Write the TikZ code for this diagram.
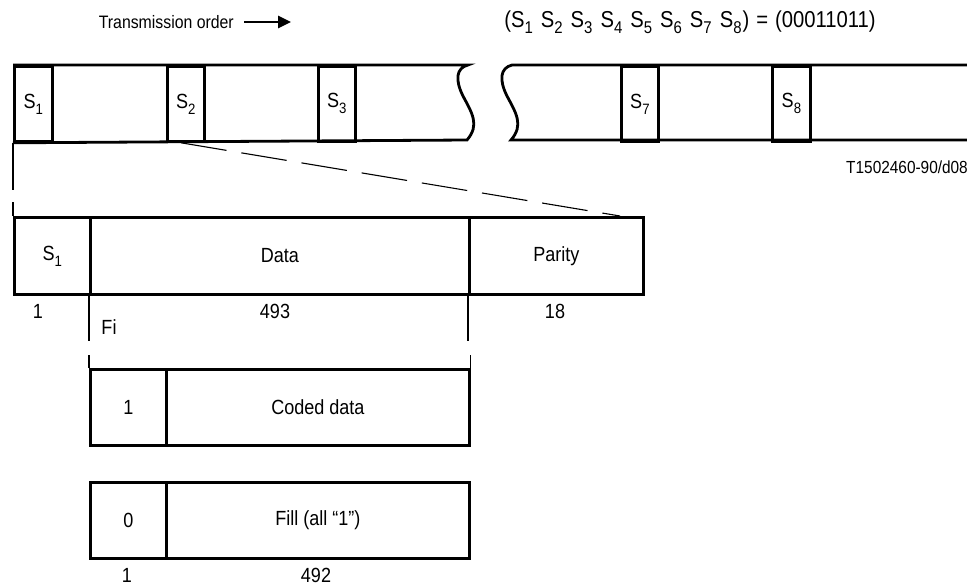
\documentclass[tikz,border=0pt]{standalone}
\usepackage{fontspec}
\setmainfont{Liberation Sans}[FakeStretch=0.88]
\usetikzlibrary{arrows.meta,calc}
\newcommand\sbs[1]{\raisebox{-6pt}{\fontsize{15pt}{15pt}\selectfont #1}}
\newcommand\sbt[1]{\raisebox{-6pt}{\fontsize{17pt}{17pt}\selectfont #1}\hspace{1pt}}
\newcommand\gp{\hspace{7pt}}
\begin{document}
\begin{tikzpicture}[x=1pt,y=-1pt,
  every node/.style={font=\fontsize{20.5pt}{24pt}\selectfont, inner sep=0pt},
  thickline/.style={line width=2.8pt, line join=miter},
  thinline/.style={line width=1.1pt},
  cell/.style={draw, line width=2.8pt, anchor=north west}]
\useasboundingbox (0,0) rectangle (967,587);
% header
\node[anchor=east, font=\fontsize{18pt}{21pt}\selectfont] (tord) at (234,22) {Transmission order};
\coordinate (arrE) at (291,22);
\draw[line width=2.6pt,-{Triangle[length=13pt,width=12pt]}] ($(tord.east)+(10,0)$) -- (arrE);
\node[font=\fontsize{23pt}{27pt}\selectfont] (formula) at (690,22) {(S\sbt1\gp S\sbt2\gp S\sbt3\gp S\sbt4\gp S\sbt5\gp S\sbt6\gp S\sbt7\gp S\sbt8)\gp=\gp(00011011)};
% top row, left part
\node[cell, minimum width=38, minimum height=75] (s1) at (13,65) {S\sbs1};
\node[cell, minimum width=37, minimum height=75] (s2) at (166,65) {S\sbs2};
\node[cell, minimum width=37, minimum height=75] (s3) at (317,65) {S\sbs3};
\draw[thickline] (s1.north west) -- (468,65)
  .. controls (456,68) and (455,80) .. (463,96)
  .. controls (472,113) and (480,125) .. (467,140) -- (s1.south west);
% top row, right part
\node[cell, minimum width=37, minimum height=75] (s7) at (620,65) {S\sbs7};
\node[cell, minimum width=38, minimum height=75] (s8) at (771,65) {S\sbs8};
\draw[thickline] (980,65) -- (512,65)
  .. controls (500,68) and (499,80) .. (507,96)
  .. controls (516,113) and (524,125) .. (511,140) -- (980,140);
\node[anchor=east, font=\fontsize{17.5pt}{20pt}\selectfont] (tlab) at (968,167) {T1502460-90/d08};
% block
\node[cell, minimum width=76, minimum height=77] (lS1) at (13,216) {S\sbs1};
\node[cell, minimum width=379, minimum height=77] (lData) at (89,216) {Data};
\node[cell, minimum width=174, minimum height=77] (lPar) at (468,216) {Parity};
% expansion lines
\draw[thinline] (s1.south west) -- ++(0,47);
\draw[thinline] (lS1.north west) -- ++(0,-14);
\coordinate (dA) at ($(s2.south west)!0.38!(s2.south east)$);
\coordinate (dB) at ($(lPar.north west)!0.86!(lPar.north east)$);
\draw[thinline, dash pattern=on 46pt off 15pt] (dA) -- (dB);
% sizes
\node (n1) at (38,311) {1};
\node (n493) at (275,311) {493};
\node (n18) at (555,311) {18};
\node (fi) at (109,327) {Fi};
% sub-blocks
\node[cell, minimum width=76, minimum height=76] (c1) at (89,368) {1};
\node[cell, minimum width=303, minimum height=76] (cData) at (165,368) {Coded data};
\node[cell, minimum width=76, minimum height=76] (f0) at (89,481) {0};
\node[cell, minimum width=303, minimum height=76] (fData) at (165,481) {Fill (all “1”)};
\draw[thinline] (lData.south west) -- ++(0,45);
\draw[thinline] (c1.north west) -- ++(0,-13);
\draw[thinline] (lPar.south west) -- ++(0,45);
\draw[thinline] (cData.north east) -- ++(0,-13);
\node (b1) at (127,575) {1};
\node (b492) at (316,575) {492};
\end{tikzpicture}
\end{document}
